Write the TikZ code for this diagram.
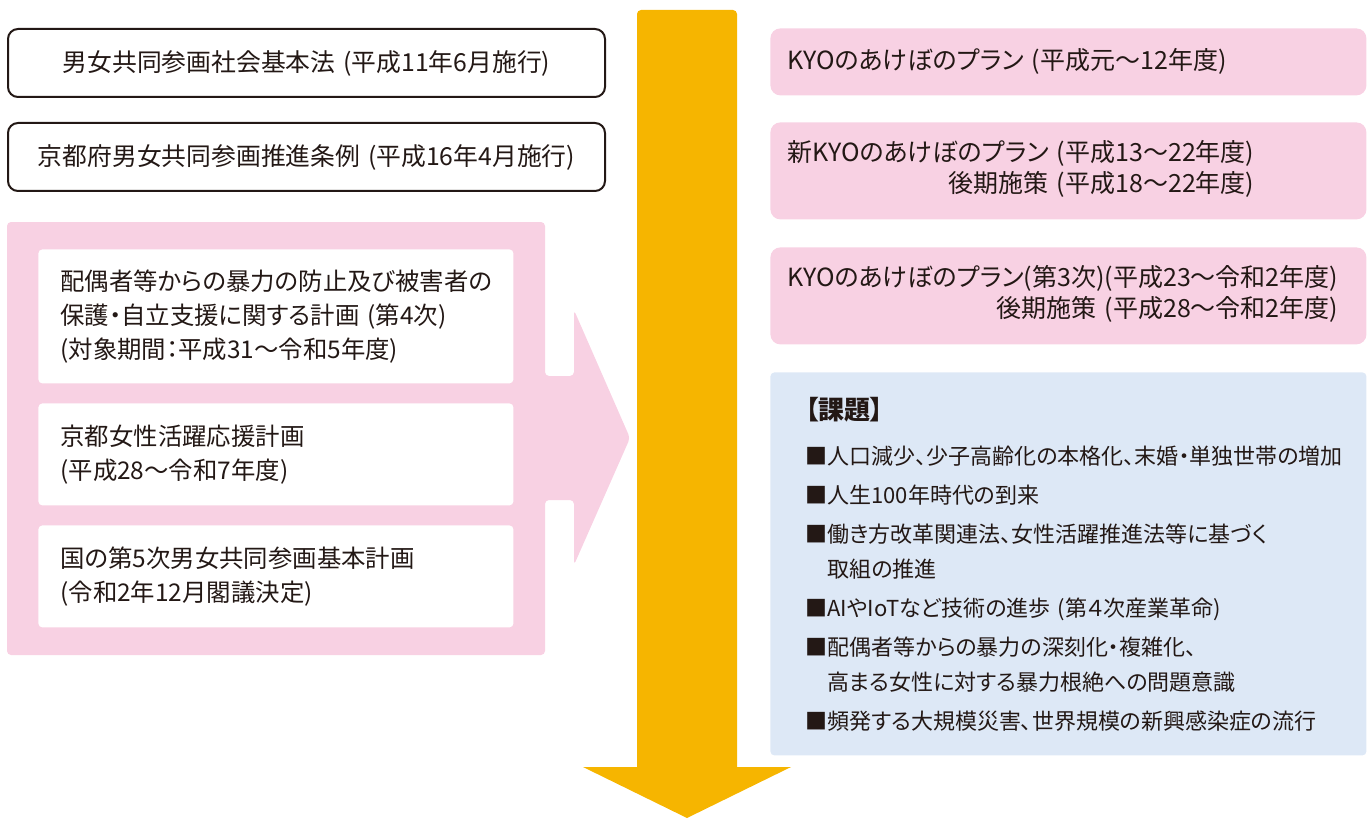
\documentclass[tikz,border=0pt]{standalone}
\usepackage{fontspec}
\setmainfont{Noto Sans CJK JP}[RawFeature=+palt]
\usepackage{xcolor}
\usepackage{tikz}

\definecolor{ink}{HTML}{231815}
\definecolor{planpink}{HTML}{F8D1E3}
\definecolor{issueblue}{HTML}{DDE8F6}
\definecolor{flowyellow}{HTML}{F6B500}

\newcommand{\kyolines}[2]{\begin{tabular}{@{}r@{}}#1\\#2\end{tabular}}
\newcommand{\pgap}{\hspace{0.32em}}

\begin{document}
\begin{tikzpicture}[
  x=0.5pt, y=-0.5pt,
  every node/.style={text=ink,font=\fontsize{12.2}{17}\selectfont},
  lawbox/.style={draw=ink,line width=1pt,rounded corners=5pt,fill=white,
    anchor=north west,minimum width=298.5pt,minimum height=34pt,align=center,
    font=\fontsize{12.4}{17}\selectfont},
  planbox/.style={fill=white,rounded corners=2pt,anchor=north west,
    text width=215.5pt,inner xsep=11pt,align=left},
  kyobox/.style={fill=planpink,rounded corners=5pt,anchor=north west,
    text width=281pt,inner xsep=8.5pt,align=left,
    font=\fontsize{12.5}{15.5}\selectfont},
  issuebox/.style={fill=issueblue,rounded corners=2pt,anchor=north west,
    text width=263pt,inner xsep=17.5pt,minimum height=191.5pt,align=left,
    font=\fontsize{11}{17.5}\selectfont}
]
\useasboundingbox (0,0) rectangle (1368,818);

% big downward arrow
\fill[flowyellow,rounded corners=2pt] (637,770) -- (637,10) -- (737,10) -- (737,770);
\fill[flowyellow] (583,767) -- (791,767) -- (687,818) -- cycle;

% laws
\node[lawbox] (law) at (7,28) {男女共同参画社会基本法\pgap(平成11年6月施行)};
\node[lawbox] (ordinance) at (7,122) {京都府男女共同参画推進条例\pgap(平成16年4月施行)};

% pink panel with its arrow
\fill[planpink,rounded corners=2pt] (7,222) -- (545,222) -- (545,376) -- (574,376)
  -- (574,310) -- (630,438) -- (574,565) -- (574,500) -- (545,500) -- (545,655)
  -- (7,655) -- cycle;
\node[planbox,minimum height=67pt] (dvplan) at (38,249)
  {配偶者等からの暴力の防止及び被害者の\\保護・自立支援に関する計画\pgap(第4次)\\(対象期間：平成31～令和5年度)};
\node[planbox,minimum height=51pt] (womenplan) at (38,403)
  {京都女性活躍応援計画\\(平成28～令和7年度)};
\node[planbox,minimum height=51pt] (natplan) at (38,525)
  {国の第5次男女共同参画基本計画\\(令和2年12月閣議決定)};

% KYO plans
\node[kyobox,minimum height=33.5pt] (kyo1) at (770,28)
  {KYOのあけぼのプラン\pgap(平成元～12年度)};
\node[kyobox,minimum height=48.5pt] (kyo2) at (770,122)
  {\kyolines{新KYOのあけぼのプラン\pgap(平成13～22年度)}{後期施策\pgap(平成18～22年度)}};
\node[kyobox,minimum height=48.5pt] (kyo3) at (770,247)
  {\kyolines{KYOのあけぼのプラン(第3次)(平成23～令和2年度)}{後期施策\pgap(平成28～令和2年度)}};

% issues
\node[issuebox] (issues) at (770,372)
  {{\fontsize{13}{17.5}\selectfont\bfseries 【課題】}\\[5pt]
   ■人口減少、少子高齢化の本格化、末婚・単独世帯の増加\\[2pt]
   ■人生100年時代の到来\\[2pt]
   ■働き方改革関連法、女性活躍推進法等に基づく\\
   \hphantom{■}取組の推進\\[2pt]
   ■AIやIoTなど技術の進歩\pgap(第４次産業革命)\\[2pt]
   ■配偶者等からの暴力の深刻化・複雑化、\\
   \hphantom{■}高まる女性に対する暴力根絶への問題意識\\[2pt]
   ■頻発する大規模災害、世界規模の新興感染症の流行};
\end{tikzpicture}
\end{document}
